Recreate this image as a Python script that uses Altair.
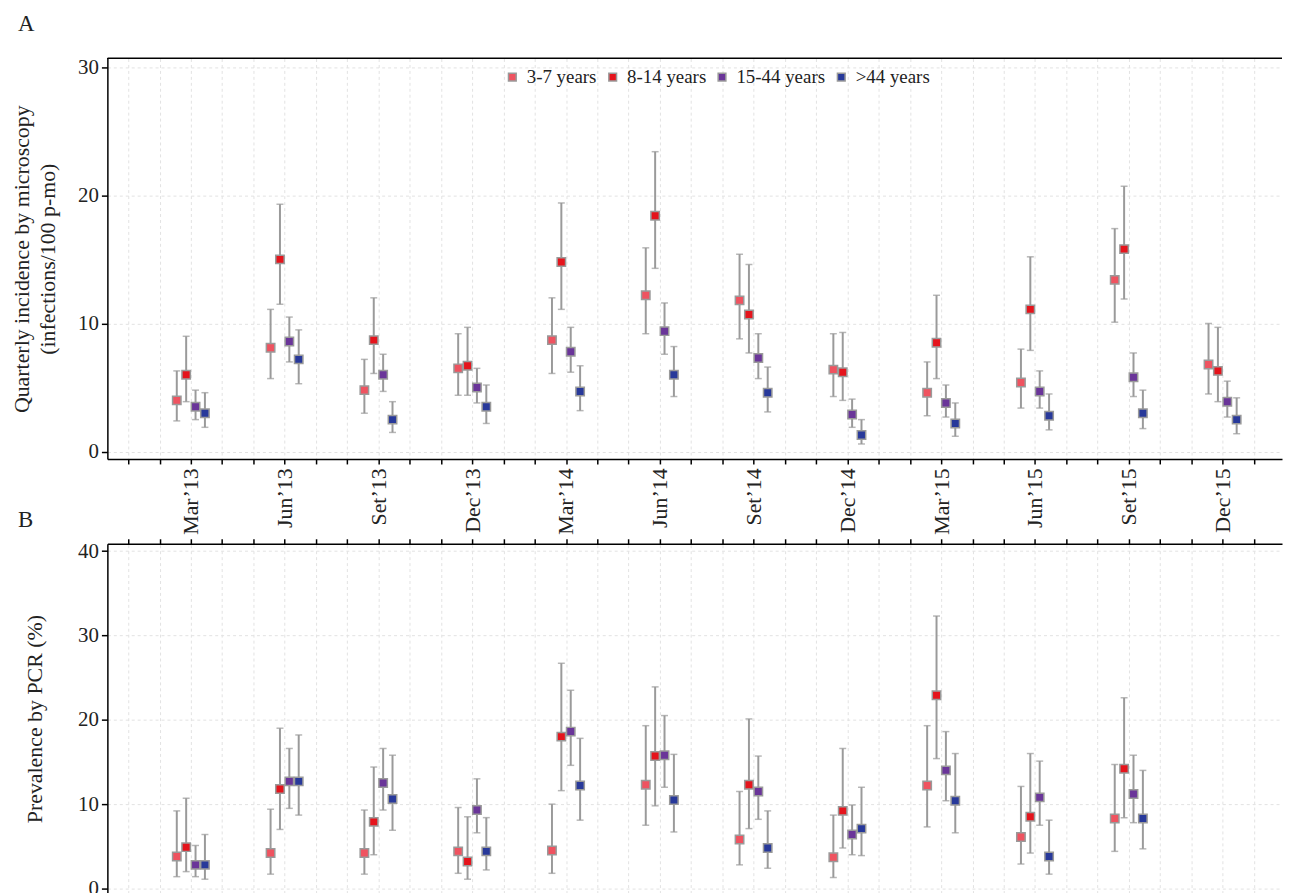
import altair as alt
import pandas as pd

# ---------------- data ----------------
groups = ["3-7 years", "8-14 years", "15-44 years", ">44 years"]
group_colors = ["#EF5360", "#E5141C", "#6A3599", "#28399A"]
quarter_labels = ["Mar’13", "Jun’13", "Set’13", "Dec’13", "Mar’14", "Jun’14",
                  "Set’14", "Dec’14", "Mar’15", "Jun’15", "Set’15", "Dec’15"]
quarter_month = [2, 5, 8, 11, 14, 17, 20, 23, 26, 29, 32, 35]  # months since Jan'13
dodge = [-0.45, -0.15, 0.15, 0.45]

# Panel A: quarterly incidence by microscopy (infections/100 p-mo)
A_37 = [4.0, 8.1, 4.8, 6.5, 8.7, 12.2, 11.8, 6.4, 4.6, 5.4, 13.4, 6.8]
A_37_lo = [2.4, 5.7, 3.0, 4.4, 6.1, 9.2, 8.8, 4.3, 2.8, 3.4, 10.1, 4.5]
A_37_hi = [6.3, 11.1, 7.2, 9.2, 12.0, 15.9, 15.4, 9.2, 7.0, 8.0, 17.4, 10.0]
A_814 = [6.0, 15.0, 8.7, 6.7, 14.8, 18.4, 10.7, 6.2, 8.5, 11.1, 15.8, 6.3]
A_814_lo = [3.9, 11.5, 6.1, 4.4, 11.1, 14.3, 7.7, 4.0, 5.7, 7.9, 11.9, 3.9]
A_814_hi = [9.0, 19.3, 12.0, 9.7, 19.4, 23.4, 14.6, 9.3, 12.2, 15.2, 20.7, 9.7]
A_1544 = [3.5, 8.6, 6.0, 5.0, 7.8, 9.4, 7.3, 2.9, 3.8, 4.7, 5.8, 3.9]
A_1544_lo = [2.5, 7.0, 4.7, 3.8, 6.2, 7.6, 5.7, 1.9, 2.7, 3.4, 4.3, 2.7]
A_1544_hi = [4.8, 10.5, 7.6, 6.5, 9.7, 11.6, 9.2, 4.1, 5.2, 6.3, 7.7, 5.5]
A_44 = [3.0, 7.2, 2.5, 3.5, 4.7, 6.0, 4.6, 1.3, 2.2, 2.8, 3.0, 2.5]
A_44_lo = [1.9, 5.3, 1.5, 2.2, 3.2, 4.3, 3.1, 0.6, 1.2, 1.7, 1.8, 1.4]
A_44_hi = [4.6, 9.5, 3.9, 5.2, 6.7, 8.2, 6.6, 2.5, 3.8, 4.5, 4.8, 4.2]

# Panel B: prevalence by PCR (%)
B_37 = [3.8, 4.2, 4.2, 4.4, 4.5, 12.3, 5.8, 3.7, 12.2, 6.1, 8.3]
B_37_lo = [1.4, 1.7, 1.7, 1.8, 1.8, 7.5, 2.8, 1.3, 7.3, 2.9, 4.4]
B_37_hi = [9.2, 9.4, 9.3, 9.6, 10.0, 19.3, 11.5, 8.7, 19.3, 12.1, 14.7]
B_814 = [4.9, 11.8, 7.9, 3.2, 18.0, 15.7, 12.3, 9.2, 22.9, 8.5, 14.2]
B_814_lo = [2.0, 7.0, 4.0, 1.1, 11.6, 9.8, 7.1, 4.8, 15.4, 4.2, 8.4]
B_814_hi = [10.7, 19.0, 14.4, 8.5, 26.7, 23.9, 20.1, 16.6, 32.3, 16.0, 22.6]
B_1544 = [2.8, 12.7, 12.5, 9.3, 18.6, 15.8, 11.5, 6.4, 14.0, 10.8, 11.2]
B_1544_lo = [1.4, 9.5, 9.3, 6.6, 14.6, 12.0, 8.2, 4.0, 10.4, 7.5, 7.8]
B_1544_hi = [5.1, 16.6, 16.6, 13.0, 23.5, 20.5, 15.7, 9.9, 18.6, 15.1, 15.8]
B_44 = [2.8, 12.7, 10.6, 4.4, 12.2, 10.5, 4.8, 7.1, 10.4, 3.8, 8.3]
B_44_lo = [1.1, 8.7, 6.9, 2.2, 8.1, 6.7, 2.4, 3.9, 6.6, 1.7, 4.7]
B_44_hi = [6.4, 18.2, 15.8, 8.4, 17.8, 15.9, 9.2, 12.0, 16.0, 8.1, 14.0]


def build(series):
    rows = []
    for gi, (est, lo, hi) in enumerate(series):
        for qi in range(len(est)):
            rows.append({"group": groups[gi], "order": gi,
                         "x": quarter_month[qi] + dodge[gi],
                         "est": est[qi], "lo": lo[qi], "hi": hi[qi]})
    return pd.DataFrame(rows)


dfA = build([(A_37, A_37_lo, A_37_hi), (A_814, A_814_lo, A_814_hi),
             (A_1544, A_1544_lo, A_1544_hi), (A_44, A_44_lo, A_44_hi)])
dfB = build([(B_37, B_37_lo, B_37_hi), (B_814, B_814_lo, B_814_hi),
             (B_1544, B_1544_lo, B_1544_hi), (B_44, B_44_lo, B_44_hi)])

# ---------------- styling ----------------
FONT = "Liberation Serif"
TXT = "#222222"
GRID = "#e2e2e2"
ERR = "#9a9a9a"
W = 1182
HA = 403
HB = 352
xdom = [-0.67, 36.9]
month_ticks = list(range(0, 37))
lab_arr = "[" + ",".join("'" + l + "'" for l in quarter_labels) + "]"
label_expr = f"datum.value % 3 == 2 ? {lab_arr}[(datum.value - 2) / 3] : ''"

color_scale = alt.Scale(domain=groups, range=group_colors)
xscale = alt.Scale(domain=xdom, nice=False, zero=False)


def layers_for(df, ydom, yvals, ytitle, xaxis, legend, tpad):
    yscale = alt.Scale(domain=ydom, nice=False, zero=False)
    yaxis = alt.Axis(values=yvals, title=ytitle, grid=True, gridDash=[3, 3],
                     gridColor=GRID, tickSize=6, labelPadding=3, titlePadding=tpad,
                     labelFontSize=21)
    X = alt.X("x:Q", scale=xscale, axis=xaxis)
    base = alt.Chart(df)
    bars = base.mark_rule(color=ERR, strokeWidth=2).encode(
        x=X, y=alt.Y("lo:Q", scale=yscale, axis=yaxis), y2="hi:Q")
    cap_lo = base.mark_tick(orient="horizontal", size=7, thickness=1.5, color=ERR).encode(
        x=X, y=alt.Y("lo:Q", scale=yscale, axis=yaxis))
    cap_hi = base.mark_tick(orient="horizontal", size=7, thickness=1.5, color=ERR).encode(
        x=X, y=alt.Y("hi:Q", scale=yscale, axis=yaxis))
    pts = base.mark_square(size=72, opacity=1, filled=True, stroke=ERR, strokeWidth=1.5).encode(
        x=X, y=alt.Y("est:Q", scale=yscale, axis=yaxis),
        color=alt.Color("group:N", scale=color_scale, legend=legend),
        order="order:Q",
    )
    return [bars, cap_lo, cap_hi, pts]


def letter_title(letter, offset):
    return alt.TitleParams(letter, anchor="start", frame="group", fontSize=23,
                           font=FONT, fontWeight="normal", color=TXT,
                           offset=offset, dx=-90)


xaxisA = alt.Axis(values=month_ticks, labelExpr=label_expr, labelAngle=270,
                  title=None, grid=True, gridDash=[3, 3], gridColor=GRID,
                  tickSize=5, labelPadding=4, labelFontSize=22)
xaxisB = alt.Axis(orient="top", values=month_ticks, labels=False, title=None,
                  grid=True, gridDash=[3, 3], gridColor=GRID, tickSize=5)

legendA = alt.Legend(orient="none", legendX=398, legendY=9, direction="horizontal",
                     title=None, symbolType="square", symbolSize=60,
                     symbolStrokeColor=ERR, symbolStrokeWidth=1.5, symbolOpacity=1,
                     labelFontSize=19, labelFont=FONT, labelColor=TXT,
                     columnPadding=6, labelOffset=5)

layersA = layers_for(dfA, [-0.57, 30.67], [0, 10, 20, 30],
                     ["Quarterly incidence by microscopy", "(infections/100 p-mo)"],
                     xaxisA, legendA, 18)
# top frame line of panel A
frameA = alt.Chart(dfA).mark_rule(color="#000000", strokeWidth=1).encode(
    x=alt.value(0), x2=alt.value(W), y=alt.value(0))
panelA = alt.layer(*layersA, frameA).properties(
    width=W, height=HA, title=letter_title("A", 20))

layersB = layers_for(dfB, [-0.6, 40.87], [0, 10, 20, 30, 40],
                     "Prevalence by PCR (%)", xaxisB, None, 31)
panelB = alt.layer(*layersB).properties(width=W, height=HB, title=letter_title("B", 6))

chart = alt.vconcat(panelA, panelB, spacing=85.3, bounds="flush").resolve_legend(
    color="independent"
).properties(
    padding={"left": 3, "top": 2, "right": 0, "bottom": 0}
).configure_axis(
    labelFont=FONT, titleFont=FONT, labelFontSize=20, titleFontSize=22,
    labelColor=TXT, titleColor=TXT, titleFontWeight="normal",
    domainColor="#000000", domainWidth=1.5, tickColor="#000000", tickWidth=1.5,
    titleLineHeight=26,
).configure_view(stroke=None).configure_title(font=FONT)

chart.save("out.html", embed_options={"renderer": "svg", "actions": False})
